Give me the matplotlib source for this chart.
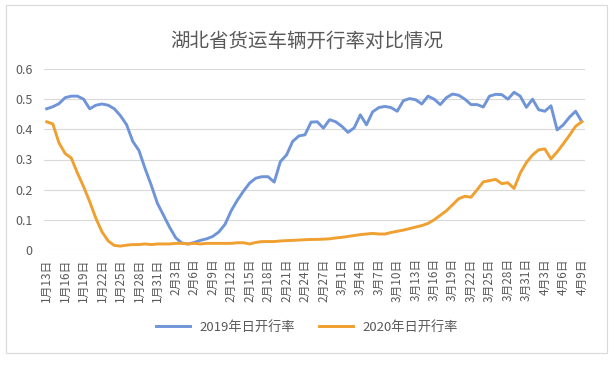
import numpy as np
import matplotlib
matplotlib.use('Agg')
import matplotlib.pyplot as plt
from matplotlib.patches import Rectangle

plt.rcParams['font.family'] = ['Noto Sans CJK SC', 'DejaVu Sans']

# 每日日期 1月13日 ~ 4月9日 (2020 闰年)
days = []
for m, d0, d1 in [(1, 13, 31), (2, 1, 29), (3, 1, 31), (4, 1, 9)]:
    for d in range(d0, d1 + 1):
        days.append(f'{m}月{d}日')

rate_2019 = [0.468, 0.475, 0.485, 0.505, 0.51, 0.51, 0.50, 0.468, 0.48, 0.484,
             0.48, 0.468, 0.445, 0.415, 0.36, 0.33, 0.27, 0.215, 0.155, 0.115,
             0.075, 0.04, 0.023, 0.02, 0.025, 0.032, 0.037, 0.045, 0.06, 0.085,
             0.13, 0.165, 0.195, 0.222, 0.238, 0.243, 0.243, 0.225, 0.293, 0.315,
             0.36, 0.378, 0.382, 0.424, 0.425, 0.404, 0.432, 0.425, 0.41, 0.39,
             0.405, 0.448, 0.415, 0.458, 0.472, 0.476, 0.472, 0.46, 0.495, 0.502,
             0.498, 0.484, 0.51, 0.50, 0.482, 0.505, 0.517, 0.513, 0.50, 0.482,
             0.482, 0.474, 0.51, 0.516, 0.515, 0.50, 0.523, 0.51, 0.473, 0.50,
             0.465, 0.46, 0.478, 0.398, 0.415, 0.44, 0.46, 0.426]

rate_2020 = [0.425, 0.418, 0.355, 0.32, 0.305, 0.255, 0.21, 0.16, 0.105, 0.06,
             0.03, 0.015, 0.013, 0.016, 0.018, 0.018, 0.02, 0.018, 0.02, 0.02,
             0.02, 0.022, 0.022, 0.02, 0.022, 0.02, 0.022, 0.022, 0.022, 0.022,
             0.022, 0.024, 0.024, 0.02, 0.025, 0.028, 0.028, 0.028, 0.03, 0.031,
             0.032, 0.033, 0.034, 0.035, 0.035, 0.036, 0.037, 0.04, 0.042, 0.045,
             0.048, 0.051, 0.053, 0.055, 0.053, 0.053, 0.058, 0.062, 0.066, 0.071,
             0.076, 0.081, 0.088, 0.1, 0.115, 0.13, 0.15, 0.17, 0.178, 0.175,
             0.2, 0.226, 0.23, 0.234, 0.22, 0.223, 0.204, 0.255, 0.29, 0.315,
             0.332, 0.335, 0.302, 0.325, 0.352, 0.38, 0.41, 0.425]

yticks = [0, 0.1, 0.2, 0.3, 0.4, 0.5, 0.6]
ylabels = ['0', '0.1', '0.2', '0.3', '0.4', '0.5', '0.6']

W, H = 613, 375
fig = plt.figure(figsize=(W / 100, H / 100), dpi=100)
fig.patches.append(Rectangle((6 / W, 1 - 353 / H), 601 / W, 348 / H,
                             transform=fig.transFigure, fill=False,
                             edgecolor='#d9d9d9', linewidth=0.8))

ax = fig.add_axes([43.6 / W, 1 - 250 / H, (584.8 - 43.6) / W, (250 - 69) / H])
x = np.arange(len(days))
ax.plot(x, rate_2019, color='#6f95d8', linewidth=2.1, label='2019年日开行率')
ax.plot(x, rate_2020, color='#f0a030', linewidth=2.1, label='2020年日开行率')

ax.set_xlim(-0.5, len(days) - 0.5)
ax.set_ylim(0, 0.6)
ax.set_yticks(yticks)
ax.set_yticklabels(ylabels, fontsize=9, color='#595959')
ax.set_xticks(x[::3])
ax.set_xticklabels(days[::3], rotation=90, fontsize=8.5, color='#595959')
ax.tick_params(axis='x', length=0, pad=6)
ax.tick_params(axis='y', length=0, pad=8)
ax.grid(axis='y', color='#d9d9d9', linewidth=0.8)
ax.set_axisbelow(True)
for s in ax.spines.values():
    s.set_visible(False)

fig.text(0.5, 1 - 41 / H, '湖北省货运车辆开行率对比情况', ha='center', va='center',
         fontsize=14, color='#595959')

fig.legend(loc='center', bbox_to_anchor=(307 / W, 1 - 327 / H), ncol=2,
           frameon=False, fontsize=9.5, labelcolor='#595959',
           handlelength=2.6, columnspacing=1.8, handletextpad=0.7)

fig.savefig('out.png', dpi=100)
